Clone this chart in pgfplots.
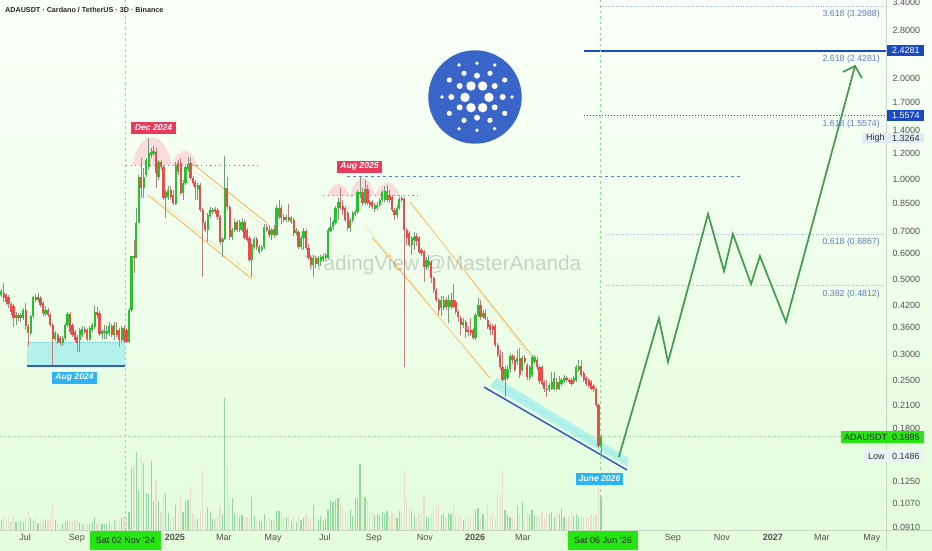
\documentclass[border=0pt]{standalone}
\usepackage{pgfplots}
\pgfplotsset{compat=1.18}
\usepackage{pgfplotstable}
\usepackage{fontspec}
\setmainfont{Liberation Sans}
\definecolor{cup}{HTML}{25C22B}
\definecolor{cdn}{HTML}{EE4A4A}
\definecolor{wup}{HTML}{6F9F78}
\definecolor{wdn}{HTML}{BE7C7C}
\definecolor{vup}{HTML}{8EDB9C}
\definecolor{vdn}{HTML}{EADCCB}
\definecolor{fib}{HTML}{5D7CC9}
\definecolor{deepblue}{HTML}{1A49C4}
\definecolor{supblue}{HTML}{3559C4}
\definecolor{orng}{HTML}{F2B451}
\definecolor{proj}{HTML}{3F9C4A}
\definecolor{cyanb}{HTML}{B2F2EA}
\definecolor{lime}{HTML}{26E612}
\definecolor{vline}{HTML}{8FD98F}
\definecolor{vdash}{HTML}{86DF86}
\definecolor{reddot}{HTML}{EC5A6A}
\definecolor{bgtop}{HTML}{FAFFF9}
\definecolor{bgbot}{HTML}{E3FDDC}
\definecolor{logoblue}{HTML}{3A65C8}
\definecolor{tagred}{HTML}{EA3A5A}
\definecolor{tagblue}{HTML}{2CB3F5}
\definecolor{hump}{HTML}{FBDCDC}
\definecolor{hibox}{HTML}{E2ECF6}
\definecolor{lobox}{HTML}{E8F3F8}
\definecolor{sep}{HTML}{C5D6C2}
\definecolor{dotcy}{HTML}{7FCFD8}
\pgfplotstableread{
i o h l c v
0 .450 .469 .444 .463 10
1 .456 .489 .429 .441 13
2 .450 .456 .420 .429 9
3 .444 .450 .412 .423 13
4 .423 .429 .392 .400 9
5 .417 .423 .361 .384 13
6 .384 .400 .366 .392 8
7 .392 .397 .376 .384 8
8 .384 .397 .374 .392 9
9 .384 .412 .379 .406 8
10 .406 .426 .354 .364 11
11 .364 .369 .317 .347 18
12 .347 .392 .342 .389 12
13 .389 .447 .384 .444 9
14 .444 .453 .429 .435 13
15 .435 .456 .429 .444 7
16 .441 .447 .414 .420 9
17 .426 .432 .389 .397 9
18 .395 .417 .389 .406 11
19 .406 .412 .387 .392 10
20 .392 .397 .361 .366 12
21 .366 .371 .278 .332 28
22 .332 .352 .328 .347 10
23 .342 .347 .321 .326 5
24 .335 .340 .319 .323 5
25 .323 .340 .317 .335 6
26 .335 .371 .330 .366 8
27 .366 .400 .361 .395 9
28 .395 .400 .344 .349 9
29 .366 .371 .337 .342 9
30 .349 .354 .326 .330 11
31 .337 .342 .304 .323 9
32 .330 .359 .304 .354 7
33 .342 .364 .337 .356 6
34 .356 .361 .344 .349 7
35 .354 .359 .328 .332 7
36 .332 .364 .328 .359 6
37 .354 .371 .349 .366 8
38 .361 .417 .356 .400 13
39 .400 .414 .384 .392 7
40 .397 .403 .340 .344 9
41 .344 .356 .333 .352 6
42 .347 .366 .333 .352 6
43 .344 .364 .333 .352 6
44 .347 .374 .340 .364 9
45 .364 .369 .337 .342 5
46 .342 .374 .330 .366 10
47 .354 .374 .337 .342 12
48 .354 .359 .314 .330 9
49 .330 .364 .326 .359 12
50 .359 .364 .324 .328 14
51 .354 .359 .324 .326 13
52 .326 .412 .324 .406 18
53 .406 .589 .400 .589 62
54 .589 .658 .524 .581 64
55 .581 .821 .581 .741 78
56 .741 1.031 .741 1.017 40
57 1.017 1.158 .881 .942 75
58 .942 1.082 .881 1.017 67
59 1.031 1.158 1.017 1.143 37
60 1.089 1.330 1.067 1.199 36
61 1.183 1.242 1.158 1.207 69
62 1.191 1.259 1.175 1.215 29
63 1.207 1.242 .942 1.045 49
64 1.017 1.143 .996 1.127 29
65 1.127 1.143 1.067 1.089 18
66 1.089 1.104 .868 .881 36
67 .881 .930 .767 .917 37
68 .886 .955 .868 .930 17
69 .930 .955 .874 .886 11
70 .898 .930 .838 .850 13
71 .844 1.127 .838 1.104 25
72 1.119 1.143 1.031 1.052 18
73 1.119 1.158 .898 .911 33
74 .911 .996 .868 .975 18
75 .975 1.104 .962 1.089 29
76 1.074 1.166 1.052 1.112 30
77 1.119 1.158 .996 1.010 44
78 1.010 1.024 .955 .975 17
79 .982 .996 .868 .942 14
80 .936 .975 .868 .962 11
81 .962 .975 .799 .810 19
82 .810 .821 .510 .741 61
83 .741 .751 .695 .705 18
84 .705 .793 .648 .782 23
85 .777 .827 .767 .810 19
86 .799 .821 .788 .810 11
87 .816 .827 .788 .799 11
88 .810 .821 .756 .772 14
89 .772 .782 .636 .648 23
90 .648 .671 .585 .662 16
91 .662 1.175 .658 .942 132
92 .942 1.017 .810 .827 63
93 .827 .838 .658 .671 33
94 .671 .715 .658 .705 32
95 .705 .761 .695 .746 17
96 .746 .756 .695 .705 15
97 .705 .756 .695 .746 13
98 .705 .767 .695 .746 15
99 .746 .756 .658 .667 13
100 .705 .715 .648 .658 13
101 .667 .676 .565 .573 12
102 .573 .645 .510 .636 33
103 .627 .671 .618 .662 14
104 .662 .671 .614 .627 11
105 .606 .636 .597 .627 9
106 .614 .636 .606 .627 8
107 .627 .735 .618 .720 16
108 .720 .735 .695 .705 11
109 .705 .730 .667 .681 13
110 .681 .715 .658 .705 10
111 .710 .730 .667 .681 10
112 .681 .838 .676 .821 19
113 .772 .868 .761 .821 19
114 .821 .838 .735 .767 17
115 .772 .788 .746 .756 12
116 .756 .782 .746 .772 13
117 .772 .844 .746 .756 15
118 .746 .777 .735 .767 9
119 .756 .767 .676 .690 11
120 .690 .715 .681 .705 8
121 .695 .705 .618 .627 14
122 .627 .676 .614 .667 10
123 .667 .715 .614 .700 12
124 .700 .710 .614 .623 15
125 .623 .641 .573 .581 13
126 .585 .593 .542 .554 11
127 .554 .593 .510 .581 25
128 .581 .589 .542 .558 13
129 .558 .589 .550 .581 10
130 .569 .593 .550 .585 14
131 .577 .597 .565 .589 9
132 .581 .601 .573 .593 12
133 .581 .715 .577 .705 20
134 .700 .772 .695 .720 30
135 .720 .756 .705 .746 28
136 .741 .832 .730 .821 30
137 .821 .881 .756 .856 32
138 .856 .942 .810 .821 36
139 .832 .868 .782 .810 22
140 .821 .832 .746 .756 18
141 .793 .804 .700 .715 16
142 .715 .767 .695 .756 20
143 .756 .804 .746 .793 14
144 .788 .810 .777 .799 32
145 .799 .930 .788 .917 32
146 .905 1.017 .881 .917 66
147 .917 .942 .832 .850 36
148 .850 .996 .838 .936 33
149 .936 .962 .838 .850 30
150 .856 .868 .821 .838 19
151 .856 .868 .816 .827 18
152 .816 .850 .799 .838 15
153 .821 .856 .810 .838 17
154 .838 .881 .827 .868 15
155 .868 .930 .856 .917 18
156 .868 .955 .856 .923 16
157 .868 .962 .856 .923 19
158 .898 .930 .850 .868 14
159 .886 .898 .799 .810 18
160 .810 .821 .756 .782 15
161 .782 .838 .767 .821 12
162 .821 .886 .810 .874 19
163 .881 .892 .856 .868 18
164 .874 .886 .274 .705 59
165 .705 .715 .636 .667 31
166 .690 .700 .627 .636 22
167 .636 .676 .593 .667 19
168 .658 .695 .614 .671 14
169 .676 .690 .632 .653 12
170 .667 .676 .597 .606 16
171 .614 .623 .589 .601 18
172 .606 .614 .492 .546 32
173 .546 .585 .535 .573 14
174 .554 .593 .542 .569 12
175 .565 .573 .489 .506 17
176 .506 .513 .456 .466 20
177 .466 .472 .429 .435 22
178 .435 .441 .392 .406 27
179 .412 .447 .389 .435 15
180 .412 .447 .406 .435 16
181 .435 .444 .406 .414 12
182 .414 .450 .371 .435 17
183 .414 .456 .409 .435 16
184 .435 .485 .412 .414 29
185 .429 .435 .395 .400 14
186 .400 .406 .374 .387 15
187 .384 .389 .342 .366 13
188 .366 .384 .359 .374 10
189 .374 .379 .335 .349 12
190 .354 .364 .340 .349 13
191 .354 .384 .340 .347 9
192 .354 .359 .330 .335 14
193 .335 .397 .330 .392 20
194 .392 .441 .387 .420 22
195 .420 .435 .379 .387 15
196 .387 .406 .382 .397 16
197 .397 .409 .379 .384 12
198 .379 .387 .356 .361 24
199 .366 .371 .342 .354 14
200 .364 .369 .342 .354 18
201 .364 .369 .315 .319 12
202 .319 .323 .294 .298 36
203 .298 .308 .269 .274 35
204 .274 .304 .247 .251 59
205 .251 .276 .223 .271 20
206 .255 .278 .251 .271 15
207 .271 .300 .265 .296 13
208 .296 .300 .280 .288 12
209 .288 .298 .265 .269 13
210 .284 .308 .278 .292 24
211 .292 .313 .254 .259 16
212 .269 .296 .265 .292 28
213 .292 .298 .280 .284 14
214 .278 .282 .251 .256 19
215 .255 .278 .251 .274 16
216 .259 .298 .256 .294 20
217 .284 .298 .280 .294 15
218 .288 .294 .269 .274 13
219 .274 .278 .244 .249 14
220 .274 .278 .240 .244 18
221 .247 .251 .231 .236 12
222 .236 .251 .223 .234 17
223 .236 .245 .231 .242 16
224 .236 .265 .234 .247 18
225 .236 .265 .234 .254 13
226 .247 .254 .234 .236 17
227 .236 .257 .234 .247 16
228 .244 .254 .240 .251 22
229 .249 .259 .245 .254 13
230 .254 .257 .247 .251 12
231 .251 .254 .244 .247 14
232 .251 .254 .240 .244 20
233 .247 .257 .244 .254 14
234 .251 .278 .247 .274 16
235 .269 .288 .265 .276 13
236 .276 .288 .256 .259 12
237 .263 .267 .247 .251 13
238 .254 .257 .240 .244 12
239 .251 .254 .237 .240 13
240 .247 .251 .234 .236 15
241 .240 .244 .231 .235 14
242 .235 .238 .208 .211 16
243 .211 .214 .157 .1585 49
244 .1585 .172 .1486 .1695 33
}\candles
\newcommand{\fibfont}{\fontsize{8.8}{10}\selectfont}
\newcommand{\axfont}{\fontsize{9}{10}\selectfont}
\begin{document}
\begin{tikzpicture}
\path[use as bounding box] (0pt,-20pt) rectangle (932pt,530pt);
\shade[top color=bgtop, bottom color=bgbot] (0pt,-20pt) rectangle (932pt,530pt);
% overlays beneath the candles, typed in picture pixels
\begin{scope}[x=1pt,y=-1pt,yshift=530pt]
 \fill[cyanb] (27,342) rectangle (125,366);
 \draw[dotcy,densely dotted,line width=.7pt] (27,342)--(125,342);
 \fill[cyanb] (490,386)--(497,378)--(628,458)--(628,467)--cycle;
 \draw[dotcy,densely dotted,line width=.4pt] (494,382)--(626,462);
 \fill[hump] (132,165) .. controls (140,128) and (164,128) .. (172,165)--cycle;
 \fill[hump] (172,165) .. controls (178,146) and (191,146) .. (197,165)--cycle;
 \fill[hump] (327,196) .. controls (333,180) and (344,180) .. (350,196)--cycle;
 \fill[hump] (350,196) .. controls (356,172) and (369,172) .. (375,196)--cycle;
 \fill[hump] (375,196) .. controls (381,178) and (394,178) .. (400,196)--cycle;
 \draw[orng,line width=.8pt] (193,164)--(267,223);
 \draw[orng,line width=.8pt] (148,195)--(252,279);
 \draw[orng!45,line width=.5pt] (193,170)--(263,225);
 \draw[orng!45,line width=.5pt] (152,195)--(258,279);
 \draw[orng,line width=.8pt] (410,202)--(533,357);
 \draw[orng,line width=.8pt] (372,237)--(490,378);
 \draw[orng!45,line width=.5pt] (415,207)--(530,357);
 \draw[orng!45,line width=.5pt] (365,225)--(487,376);
 \node[anchor=center,text=black,opacity=.17,inner sep=0pt,font=\fontsize{20.8}{22}\selectfont] at (443,265) {TradingView @MasterAnanda};
\end{scope}
% volume pane
\begin{axis}[at={(0pt,0pt)},anchor=south west,scale only axis,width=886pt,height=530pt,
  xmin=-0.49,xmax=360,ymin=0,ymax=530,hide axis]
\addplot[ycomb,vup,line width=1.2pt,mark=none] table[x=i,y expr={\thisrow{c}>=\thisrow{o} ? \thisrow{v} : nan}] {\candles};
\addplot[ycomb,vdn,line width=1.2pt,mark=none] table[x=i,y expr={\thisrow{c}<\thisrow{o} ? \thisrow{v} : nan}] {\candles};
\end{axis}
% price pane
\begin{axis}[at={(0pt,0pt)},anchor=south west,scale only axis,width=886pt,height=530pt,
  xmin=-0.49,xmax=360,ymode=log,ymin=0.0891,ymax=3.446,
  axis line style={draw=none},major tick length=0pt,minor tick length=0pt,tick style={draw=none},
  ytick={3.4,2.8,2.0,1.7,1.4,1.2,1.0,0.85,0.7,0.6,0.5,0.42,0.36,0.30,0.25,0.21,0.18,0.125,0.107,0.091},
  yticklabels={3.4000,2.8000,2.0000,1.7000,1.4000,1.2000,1.0000,0.8500,0.7000,0.6000,0.5000,0.4200,0.3600,0.3000,0.2500,0.2100,0.1800,0.1250,0.1070,0.0910},
  yticklabel pos=right,
  yticklabel style={anchor=west,xshift=3pt,font=\axfont,text=black!68},
  xtick={9.7,30.8,70.7,90.6,110.6,131.7,151.6,172.4,192.8,212.3,273.3,293.2,314,333.9,354.3},
  xticklabels={Jul,Sep,\textbf{2025},Mar,May,Jul,Sep,Nov,\textbf{2026},Mar,Sep,Nov,\textbf{2027},Mar,May},
  xticklabel style={anchor=base,yshift=-10pt,font=\axfont,text=black!68},
  clip=true]
% level lines
\addplot[fib!60,dash pattern=on 1pt off 1.5pt,line width=.6pt] coordinates {(244,3.2988)(360,3.2988)};
\addplot[deepblue,line width=2pt] coordinates {(237,2.4281)(360,2.4281)};
\addplot[deepblue,dash pattern=on 1.5pt off 1.5pt,line width=.9pt] coordinates {(237,1.5574)(360,1.5574)};
\addplot[fib!55,dash pattern=on 1pt off 1.5pt,line width=.6pt] coordinates {(246,0.6867)(360,0.6867)};
\addplot[fib!55,dash pattern=on 1pt off 1.5pt,line width=.6pt] coordinates {(246,0.4812)(360,0.4812)};
\addplot[fib,dashed,line width=.7pt] coordinates {(140.7,1.022)(301.4,1.022)};
\addplot[vline,dash pattern=on 1pt off 1.5pt,line width=.7pt] coordinates {(-0.49,0.1695)(360,0.1695)};
\addplot[reddot,dash pattern=on 1.2pt off 3.5pt,line width=1pt] coordinates {(50.7,1.104)(104.5,1.104)};
\addplot[reddot,dash pattern=on 1.2pt off 3.5pt,line width=1pt] coordinates {(131,0.892)(170.4,0.892)};
% date markers
\addplot[vdash,dash pattern=on 2.5pt off 3pt,line width=1.1pt] coordinates {(50.4,0.0891)(50.4,3.446)};
\addplot[vdash,dash pattern=on 2.5pt off 3pt,line width=1.1pt] coordinates {(244,0.0891)(244,3.446)};
% support lines
\addplot[supblue,line width=1.5pt] coordinates {(10.5,0.2761)(50.4,0.2761)};
\addplot[supblue,line width=1.5pt] coordinates {(196.4,0.2389)(254.6,0.1348)};
% wicks
\addplot[draw=none,mark=none,error bars/.cd,y dir=minus,y explicit,error mark=none,error bar style={wup,line width=.8pt}]
 table[x=i,y expr={\thisrow{c}>=\thisrow{o} ? \thisrow{h} : nan},y error minus expr={\thisrow{h}-\thisrow{l}}] {\candles};
\addplot[draw=none,mark=none,error bars/.cd,y dir=minus,y explicit,error mark=none,error bar style={wdn,line width=.8pt}]
 table[x=i,y expr={\thisrow{c}<\thisrow{o} ? \thisrow{h} : nan},y error minus expr={\thisrow{h}-\thisrow{l}}] {\candles};
% bodies
\addplot[draw=none,mark=none,error bars/.cd,y dir=minus,y explicit,error mark=none,error bar style={cup,line width=2.2pt}]
 table[x=i,y expr={\thisrow{c}>=\thisrow{o} ? \thisrow{c} : nan},y error minus expr={\thisrow{c}-\thisrow{o}}] {\candles};
\addplot[draw=none,mark=none,error bars/.cd,y dir=minus,y explicit,error mark=none,error bar style={cdn,line width=2.2pt}]
 table[x=i,y expr={\thisrow{c}<\thisrow{o} ? \thisrow{o} : nan},y error minus expr={\thisrow{o}-\thisrow{c}}] {\candles};
% projected path
\addplot[proj,line width=1.7pt,line join=miter] coordinates {(251.3,0.1474)(267.6,0.384)(271.3,0.284)(287.6,0.788)(294.1,0.531)(297.7,0.686)(305.1,0.486)(308.7,0.589)(319.3,0.374)(347.4,2.186)};
\addplot[proj,line width=1.7pt] coordinates {(342.5,2.098)(347.4,2.186)(350.2,2.012)};
\end{axis}
% texts and boxes, typed in picture pixels
\begin{scope}[x=1pt,y=-1pt,yshift=530pt]
 \draw[sep,line width=.7pt] (886,0)--(886,550);
 \draw[sep,line width=.7pt] (0,530)--(932,530);
 \node[anchor=west,inner sep=0pt,text=black!85,font=\fontsize{7.2}{9}\selectfont\bfseries] at (5,10) {ADAUSDT · Cardano / TetherUS · 3D · Binance};
 % logo
 \fill[logoblue] (475,97) circle (46.7);
 \foreach \x/\y in {183/138,218/138,165/172,237/172,183/203,218/203}
   \fill[white] ({410+\x/3},{40+\y/3}) circle (4.7);
 \foreach \x/\y in {201/107,149/138,254/138,124/171,278/171,149/202,254/202,201/233}
   \fill[white] ({410+\x/3},{40+\y/3}) circle (3);
 \foreach \x/\y in {162/100,240/100,118/120,284/120,118/220,284/220,162/241,240/241}
   \fill[white] ({410+\x/3},{40+\y/3}) circle (2.6);
 \foreach \x/\y in {201/70,147/75,254/75,96/171,306/171,147/266,254/266,201/271}
   \fill[white] ({410+\x/3},{40+\y/3}) circle (1.9);
 % tags
 \tikzset{tag/.style={text=white,font=\fontsize{8.6}{10}\selectfont\bfseries\itshape,inner sep=0pt,anchor=center}}
 \fill[tagred] (131,122) rectangle (176,134);
 \node[tag] at (153.5,128) {Dec 2024};
 \fill[tagred] (337,161) rectangle (382,172.5);
 \node[tag] at (359.5,166.7) {Aug 2025};
 \fill[tagblue] (52,372) rectangle (97,383.5);
 \node[tag] at (74.5,377.7) {Aug 2024};
 \fill[tagblue] (576,473) rectangle (623,484.5);
 \node[tag] at (599.5,478.7) {June 2026};
 % fib labels
 \foreach \yy/\lab in {14/{3.618 (3.2988)},59/{2.618 (2.4281)},124/{1.618 (1.5574)},242/{0.618 (0.6867)},294/{0.382 (0.4812)}}
   \node[anchor=east,inner sep=0pt,text=fib,font=\fibfont] at (880,\yy) {\lab};
 % price boxes
 \fill[deepblue] (887,45) rectangle (924,56);
 \node[anchor=west,inner sep=0pt,text=white,font=\axfont] at (892,50.7) {2.4281};
 \fill[deepblue] (887,110) rectangle (924,121);
 \node[anchor=west,inner sep=0pt,text=white,font=\axfont] at (892,115.5) {1.5574};
 \fill[hibox] (862,133) rectangle (924,143.5);
 \node[anchor=west,inner sep=0pt,text=black!80,font=\axfont] at (866,138.3) {High};
 \node[anchor=west,inner sep=0pt,text=black!80,font=\axfont] at (892,138.3) {1.3264};
 \fill[lobox] (864,450) rectangle (924,461.5);
 \node[anchor=west,inner sep=0pt,text=black!80,font=\axfont] at (868,456) {Low};
 \node[anchor=west,inner sep=0pt,text=black!80,font=\axfont] at (892,456) {0.1486};
 \fill[lime] (841,431) rectangle (924,443);
 \node[anchor=west,inner sep=0pt,text=black!85,font=\axfont] at (844,437) {ADAUSDT};
 \node[anchor=west,inner sep=0pt,text=black!85,font=\axfont] at (892,437) {0.1695};
 % date boxes
 \fill[lime] (90,531) rectangle (161,550);
 \node[inner sep=0pt,text=black!85,font=\axfont] at (125.5,540) {Sat 02 Nov '24};
 \fill[lime] (568,531) rectangle (638,550);
 \node[inner sep=0pt,text=black!85,font=\axfont] at (603,540) {Sat 06 Jun '26};
\end{scope}
\end{tikzpicture}
\end{document}
